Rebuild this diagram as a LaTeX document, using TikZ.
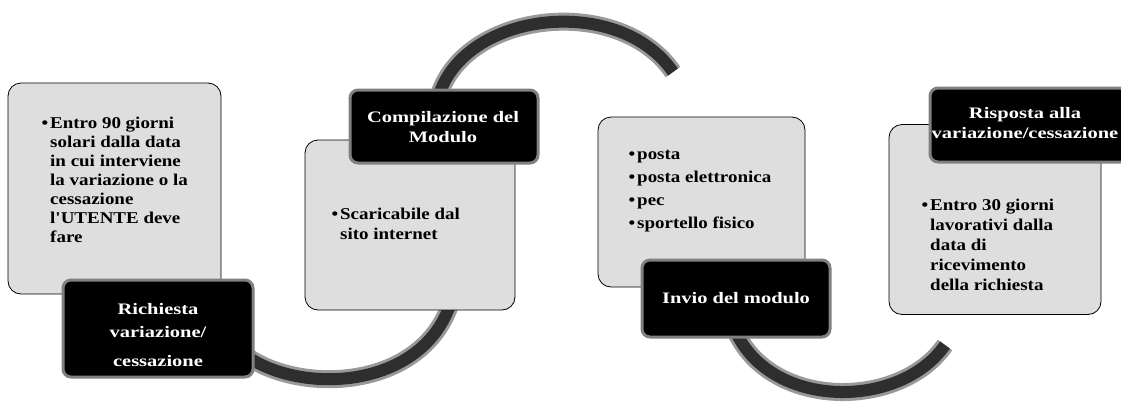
\documentclass[tikz,border=0pt]{standalone}
\usepackage{fontspec}
\setmainfont{Liberation Serif}
\newfontfamily\bodyf{Liberation Serif}[FakeStretch=1.15]
\newfontfamily\headf{Liberation Serif}[FakeStretch=1.28]
\pgfdeclarelayer{bg}
\pgfsetlayers{bg,main}
\newcommand{\bul}{\llap{\textbullet\hspace{2pt}}}
\begin{document}
\begin{tikzpicture}[x=1pt,y=-1pt,
  lightbox/.style={draw=black, line width=0.8pt, fill=black!13, rounded corners=13pt, inner sep=0pt},
  darkbox/.style={draw=black!50, line width=3pt, fill=black, rounded corners=8pt, inner sep=0pt},
  bodytxt/.style={font=\bodyf\bfseries\fontsize{16.5}{19}\selectfont, align=left, anchor=west, inner sep=0pt, text=black},
  headtxt/.style={font=\headf\bfseries\fontsize{16}{20}\selectfont, align=center, text=white, inner sep=0pt},
  arcout/.style={line width=18pt, draw=black!40},
  arcin/.style={line width=12pt, draw=black!82}]

\useasboundingbox (0,0) rectangle (1121,407);

% light boxes
\node[lightbox, minimum width=213pt, minimum height=211pt] (L1) at (114.5,188.5) {};
\node[lightbox, minimum width=210pt, minimum height=170pt] (L2) at (410,225) {};
\node[lightbox, minimum width=207pt, minimum height=170pt] (L3) at (701.5,202) {};
\node[lightbox, minimum width=212pt, minimum height=190pt] (L4) at (995,219.5) {};

% dark boxes
\node[darkbox, minimum width=190pt, minimum height=97pt] (D1) at (158,328.5) {};
\node[darkbox, minimum width=188pt, minimum height=73pt] (D2) at (444,126.5) {};
\node[darkbox, minimum width=188pt, minimum height=77pt] (D3) at (736,298.5) {};
\node[darkbox, minimum width=200pt, minimum height=74pt] (D4) at (1030,125) {};

% body texts
\node[bodytxt] (T1) at (50,180) {\bul Entro 90 giorni\\solari dalla data\\in cui interviene\\la variazione o la\\cessazione\\l'UTENTE deve\\fare};
\node[bodytxt, font=\bodyf\bfseries\fontsize{16.5}{20}\selectfont] (T2) at (340,224) {\bul Scaricabile dal\\sito internet};
\node[bodytxt, font=\bodyf\bfseries\fontsize{16.5}{23}\selectfont] (T3) at (637,191) {\bul posta\\\bul posta elettronica\\\bul pec\\\bul sportello fisico};
\node[bodytxt, font=\bodyf\bfseries\fontsize{16.5}{20}\selectfont] (T4) at (930,245) {\bul Entro 30 giorni\\lavorativi dalla\\data di\\ricevimento\\della richiesta};

% head texts
\node[headtxt, font=\headf\bfseries\fontsize{16}{23}\selectfont] (H1) at (158,335) {Richiesta\\variazione/\\[6pt]cessazione};
\node[headtxt] (H2) at (443,127) {Compilazione del\\Modulo};
\node[headtxt] (H3) at (736,298) {Invio del modulo};
\node[headtxt] (H4) at (1025,123) {Risposta alla\\variazione/cessazione};

% connector arcs
\coordinate (a1s) at (245,355);
\coordinate (a1e) at (450,305);
\coordinate (a2s) at (440,92);
\coordinate (a2e) at (673,72);
\coordinate (a3s) at (735,330);
\coordinate (a3e) at (945,345);
\begin{pgfonlayer}{bg}
  \fill[white] (0,0) rectangle (1121,407);
  \foreach \s in {arcout,arcin}{
    \draw[\s] (a1s) .. controls (300,395) and (420,390) .. (a1e);
    \draw[\s] (a2s) .. controls (470,10) and (620,-5) .. (a2e);
    \draw[\s] (a3s) .. controls (770,410) and (900,410) .. (a3e);
  }
\end{pgfonlayer}
\end{tikzpicture}
\end{document}
